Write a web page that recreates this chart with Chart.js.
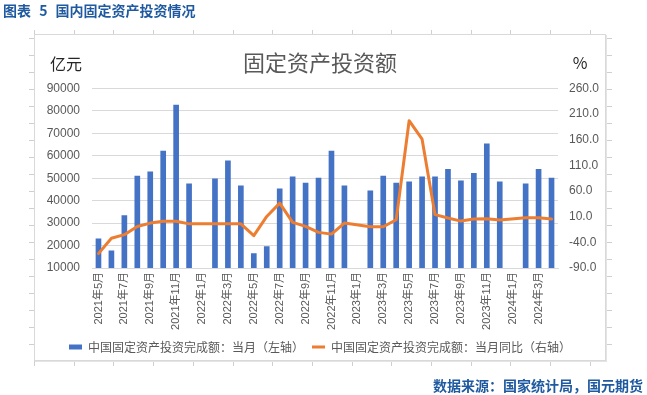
<!DOCTYPE html>
<html>
<head>
<meta charset="utf-8">
<script src="https://cdn.jsdelivr.net/npm/chart.js@4"></script>
<style>
  html, body { margin: 0; padding: 0; background: #fff; }
  #wrap { position: relative; width: 647px; height: 395px; overflow: hidden; }
  #chart { position: absolute; left: 0; top: 0; }
  .caption {
    position: absolute;
    font-family: "Noto Sans CJK SC", sans-serif;
    font-size: 14px;
    font-weight: bold;
    color: #1f5aa0;
    line-height: 16px;
    white-space: pre;
  }
  #head { left: 3px; top: 2px; word-spacing: 5px; }
  #source { right: 4px; top: 377px; }
</style>
</head>
<body>
<div id="wrap">
  <canvas id="chart" width="647" height="395"></canvas>
  <div class="caption" id="head">图表 5 国内固定资产投资情况</div>
  <div class="caption" id="source">数据来源：国家统计局，国元期货</div>
</div>
<script>
// categories, 2021-05 .. 2024-04 (Jan has no separate release)
const months = [
    '2021年5月', '2021年6月', '2021年7月', '2021年8月', '2021年9月', '2021年10月', '2021年11月', '2021年12月',
    '2022年1月', '2022年2月', '2022年3月', '2022年4月', '2022年5月', '2022年6月', '2022年7月', '2022年8月',
    '2022年9月', '2022年10月', '2022年11月', '2022年12月',
    '2023年1月', '2023年2月', '2023年3月', '2023年4月', '2023年5月', '2023年6月', '2023年7月', '2023年8月',
    '2023年9月', '2023年10月', '2023年11月', '2023年12月',
    '2024年1月', '2024年2月', '2024年3月', '2024年4月'
];

// 当月 完成额 (亿元), left axis
const investMonthly = [
    23000, 17700, 33300, 51000, 52800, 62100, 82600, 47500,
    null, 49700, 57700, 46600, 16400, 19500, 45300, 50600,
    47800, 50000, 62100, 46600,
    null, 44400, 51000, 47800, 48400, 50600, 50600, 54000,
    48800, 52200, 65300, 48400,
    null, 47500, 54000, 50000
];

// 当月同比 (%), right axis
const investYoy = [
    -62, -32, -25, -9, -2.5, 1, 1, -4,
    null, -4, -4, -4, -27, 10.5, 36.4, -1,
    -9, -20.6, -24, -2.5,
    null, -9.6, -9.6, 4, 197, 161, 14, 7.3,
    1.4, 5.3, 5.9, 3.4,
    null, 8, 8, 5.3
];

const leftTicks = [10000, 20000, 30000, 40000, 50000, 60000, 70000, 80000, 90000];
const rightTicks = [-90, -40, 10, 60, 110, 160, 210, 260];

const GREY = '#595959';
const GRID = '#d9d9d9';
const FONT = '"Liberation Sans", "Noto Sans CJK SC", sans-serif';
const CJK = '"Noto Sans CJK SC", sans-serif';

// excel-like frame, the sheet's cell marks around it, and the unit labels
const framePlugin = {
    id: 'frame',
    beforeDraw(chart) {
        const ctx = chart.ctx;
        ctx.save();
        ctx.strokeStyle = '#cfcfcf';
        ctx.lineWidth = 1;
        ctx.beginPath();
        for (let k = 0; k < 15; k++) {
            const x = Math.round(34 + 39.7 * k) + 0.5;
            ctx.moveTo(x, 30); ctx.lineTo(x, 35);
            ctx.moveTo(x, 361); ctx.lineTo(x, 366);
        }
        for (let k = 0; k < 19; k++) {
            const y = Math.round(38.3 + 17 * k) + 0.5;
            ctx.moveTo(29, y); ctx.lineTo(34, y);
            ctx.moveTo(606, y); ctx.lineTo(612, y);
        }
        ctx.stroke();

        ctx.strokeStyle = GRID;
        ctx.strokeRect(34.5, 34.5, 571, 326);
        ctx.strokeStyle = '#e4e4e4';
        ctx.beginPath();
        ctx.moveTo(35, 361.5); ctx.lineTo(607, 361.5);
        ctx.moveTo(606.5, 35); ctx.lineTo(606.5, 362);
        ctx.stroke();
        ctx.restore();
    },
    afterDraw(chart) {
        const ctx = chart.ctx;
        ctx.save();
        ctx.fillStyle = '#262626';
        ctx.textAlign = 'center';
        ctx.textBaseline = 'middle';
        ctx.font = '16px ' + CJK;
        ctx.fillText('亿元', 66, 64);
        ctx.fillText('%', 580, 63);
        ctx.restore();
    }
};

const ctx = document.getElementById('chart').getContext('2d');

new Chart(ctx, {
    type: 'bar',
    data: {
        labels: months,
        datasets: [{
            type: 'bar',
            label: '中国固定资产投资完成额：当月（左轴）',
            data: investMonthly,
            yAxisID: 'y',
            backgroundColor: '#4472c4',
            borderWidth: 0,
            barThickness: 5,
            pointStyle: 'rect',
            order: 1
        }, {
            type: 'line',
            label: '中国固定资产投资完成额：当月同比（右轴）',
            data: investYoy,
            yAxisID: 'y1',
            borderColor: '#ed7d31',
            backgroundColor: '#ed7d31',
            borderWidth: 3,
            pointRadius: 0,
            pointStyle: 'line',
            tension: 0,
            spanGaps: true,
            borderJoinStyle: 'round',
            borderCapStyle: 'round',
            order: 0
        }]
    },
    options: {
        responsive: false,
        animation: false,
        layout: { padding: { left: 34, right: 41, top: 35, bottom: 32 } },
        plugins: {
            title: {
                display: true,
                text: '固定资产投资额',
                color: GREY,
                font: { family: CJK, size: 22, weight: 'normal' },
                padding: { top: 14, bottom: 13 }
            },
            legend: {
                position: 'bottom',
                labels: {
                    color: GREY,
                    font: { family: CJK, size: 12 },
                    usePointStyle: true,
                    pointStyleWidth: 13,
                    boxHeight: 5,
                    padding: 8,
                    sort: (a, b) => a.datasetIndex - b.datasetIndex
                }
            },
            tooltip: { enabled: false }
        },
        scales: {
            x: {
                grid: { display: false, drawTicks: false },
                border: { display: true, color: GRID },
                ticks: {
                    autoSkip: false,
                    minRotation: 90,
                    maxRotation: 90,
                    padding: 4,
                    color: GREY,
                    font: { family: FONT, size: 11 },
                    callback: (v, i) => (i % 2 === 0 ? months[i] : '')
                },
                afterFit: (scale) => { scale.height = 65; }
            },
            y: {
                position: 'left',
                min: leftTicks[0],
                max: leftTicks[leftTicks.length - 1],
                grid: { color: GRID, drawTicks: false },
                border: { display: false },
                ticks: {
                    stepSize: 10000,
                    padding: 12,
                    color: GREY,
                    font: { family: FONT, size: 12 },
                    callback: (v) => String(v)
                },
                afterFit: (scale) => { scale.width = 58; }
            },
            y1: {
                position: 'right',
                min: rightTicks[0],
                max: rightTicks[rightTicks.length - 1],
                grid: { display: false, drawTicks: false },
                border: { display: false },
                ticks: {
                    stepSize: 50,
                    padding: 11,
                    color: GREY,
                    font: { family: FONT, size: 12 },
                    callback: (v) => Number(v).toFixed(1)
                },
                afterFit: (scale) => { scale.width = 48; }
            }
        }
    },
    plugins: [framePlugin]
});
</script>
</body>
</html>
